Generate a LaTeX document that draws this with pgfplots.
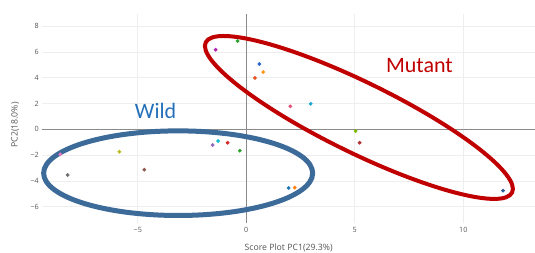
\documentclass[border=0pt]{standalone}
\usepackage{fontspec}
\setmainfont{Open Sans}
\newfontfamily\calib{Carlito}
\usepackage{pgfplots}
\pgfplotsset{compat=1.18}
\definecolor{wildring}{HTML}{3D6B99}
\definecolor{wildtext}{HTML}{2470BA}
\definecolor{mutred}{HTML}{C00000}
\definecolor{ticktext}{HTML}{555555}
\definecolor{gridc}{HTML}{EEEEEE}
\definecolor{zeroc}{HTML}{8A8A8A}
\begin{document}
\begin{tikzpicture}[x=1pt,y=1pt]
\useasboundingbox (0,0) rectangle (535,253);
\begin{axis}[
  at={(42.3pt,29.5pt)}, anchor=south west,
  scale only axis, width=492.6pt, height=209pt,
  xmin=-9.4, xmax=13.3, ymin=-7.3, ymax=8.9,
  clip=false,
  axis line style={draw=none},
  tick style={draw=none},
  grid=major,
  major grid style={color=gridc, line width=0.6pt},
  xtick={-5,0,5,10}, xticklabels={−5,0,5,10},
  ytick={-6,-4,-2,0,2,4,6,8}, yticklabels={−6,−4,−2,0,2,4,6,8},
  ticklabel style={font=\fontsize{7.2}{8}\selectfont, text=ticktext},
  xlabel={Score Plot PC1(29.3\%)},
  ylabel={PC2(18.0\%)},
  label style={font=\fontsize{8.7}{10}\selectfont, text=ticktext},
  x label style={at={(axis description cs:0.5,-0.115)}, anchor=center},
  y label style={at={(axis description cs:-0.055,0.471)}, anchor=center, rotate=0},
  mark size=1.7pt,
]
\draw[color=zeroc, line width=0.8pt] (axis cs:0,-7.3) -- (axis cs:0,8.9);
\draw[color=zeroc, line width=0.8pt] (axis cs:-9.4,0) -- (axis cs:13.3,0);
% Mutant group
\addplot[only marks, mark=*, color={rgb,255:red,176;green,32;blue,176}] coordinates {(-1.41,6.17)};
\addplot[only marks, mark=*, color={rgb,255:red,44;green,160;blue,44}] coordinates {(-0.40,6.84)};
\addplot[only marks, mark=*, color={rgb,255:red,40;green,100;blue,210}] coordinates {(0.60,5.06)};
\addplot[only marks, mark=*, color={rgb,255:red,255;green,150;blue,20}] coordinates {(0.78,4.44)};
\addplot[only marks, mark=*, color={rgb,255:red,232;green,80;blue,30}] coordinates {(0.40,3.98)};
\addplot[only marks, mark=*, color={rgb,255:red,225;green,80;blue,120}] coordinates {(2.03,1.78)};
\addplot[only marks, mark=*, color={rgb,255:red,23;green,168;blue,208}] coordinates {(2.97,1.98)};
\addplot[only marks, mark=*, color={rgb,255:red,124;green,184;blue,0}] coordinates {(5.04,-0.13)};
\addplot[only marks, mark=*, color={rgb,255:red,176;green,48;blue,48}] coordinates {(5.22,-1.04)};
\addplot[only marks, mark=*, color={rgb,255:red,40;green,90;blue,150}] coordinates {(11.83,-4.76)};
% Wild group
\addplot[only marks, mark=*, color={rgb,255:red,227;green,119;blue,194}] coordinates {(-8.57,-1.94)};
\addplot[only marks, mark=*, color={rgb,255:red,110;green,110;blue,110}] coordinates {(-8.23,-3.54)};
\addplot[only marks, mark=*, color={rgb,255:red,188;green,189;blue,34}] coordinates {(-5.85,-1.74)};
\addplot[only marks, mark=*, color={rgb,255:red,140;green,86;blue,75}] coordinates {(-4.70,-3.13)};
\addplot[only marks, mark=*, color={rgb,255:red,148;green,103;blue,189}] coordinates {(-1.55,-1.22)};
\addplot[only marks, mark=*, color={rgb,255:red,23;green,190;blue,207}] coordinates {(-1.30,-0.91)};
\addplot[only marks, mark=*, color={rgb,255:red,214;green,39;blue,40}] coordinates {(-0.86,-1.04)};
\addplot[only marks, mark=*, color={rgb,255:red,44;green,160;blue,44}] coordinates {(-0.30,-1.66)};
\addplot[only marks, mark=*, color={rgb,255:red,31;green,119;blue,180}] coordinates {(1.95,-4.55)};
\addplot[only marks, mark=*, color={rgb,255:red,255;green,127;blue,14}] coordinates {(2.23,-4.52)};
% rings
\draw[color=wildring, line width=5pt] (axis cs:-3.14,-3.40) ellipse [x radius=134.5pt, y radius=42.3pt];
\draw[color=mutred, line width=4pt, rotate around={-26.1:(axis cs:5.19,0.92)}] (axis cs:5.19,0.92) ellipse [x radius=170.6pt, y radius=35.2pt];
\node[anchor=base, text=wildtext, font=\calib\fontsize{22}{26}\selectfont] at (axis cs:-4.18,0.80) {Wild};
\node[anchor=base, text=mutred, font=\calib\fontsize{22}{26}\selectfont] at (axis cs:7.98,4.39) {Mutant};
\end{axis}
\end{tikzpicture}
\end{document}
